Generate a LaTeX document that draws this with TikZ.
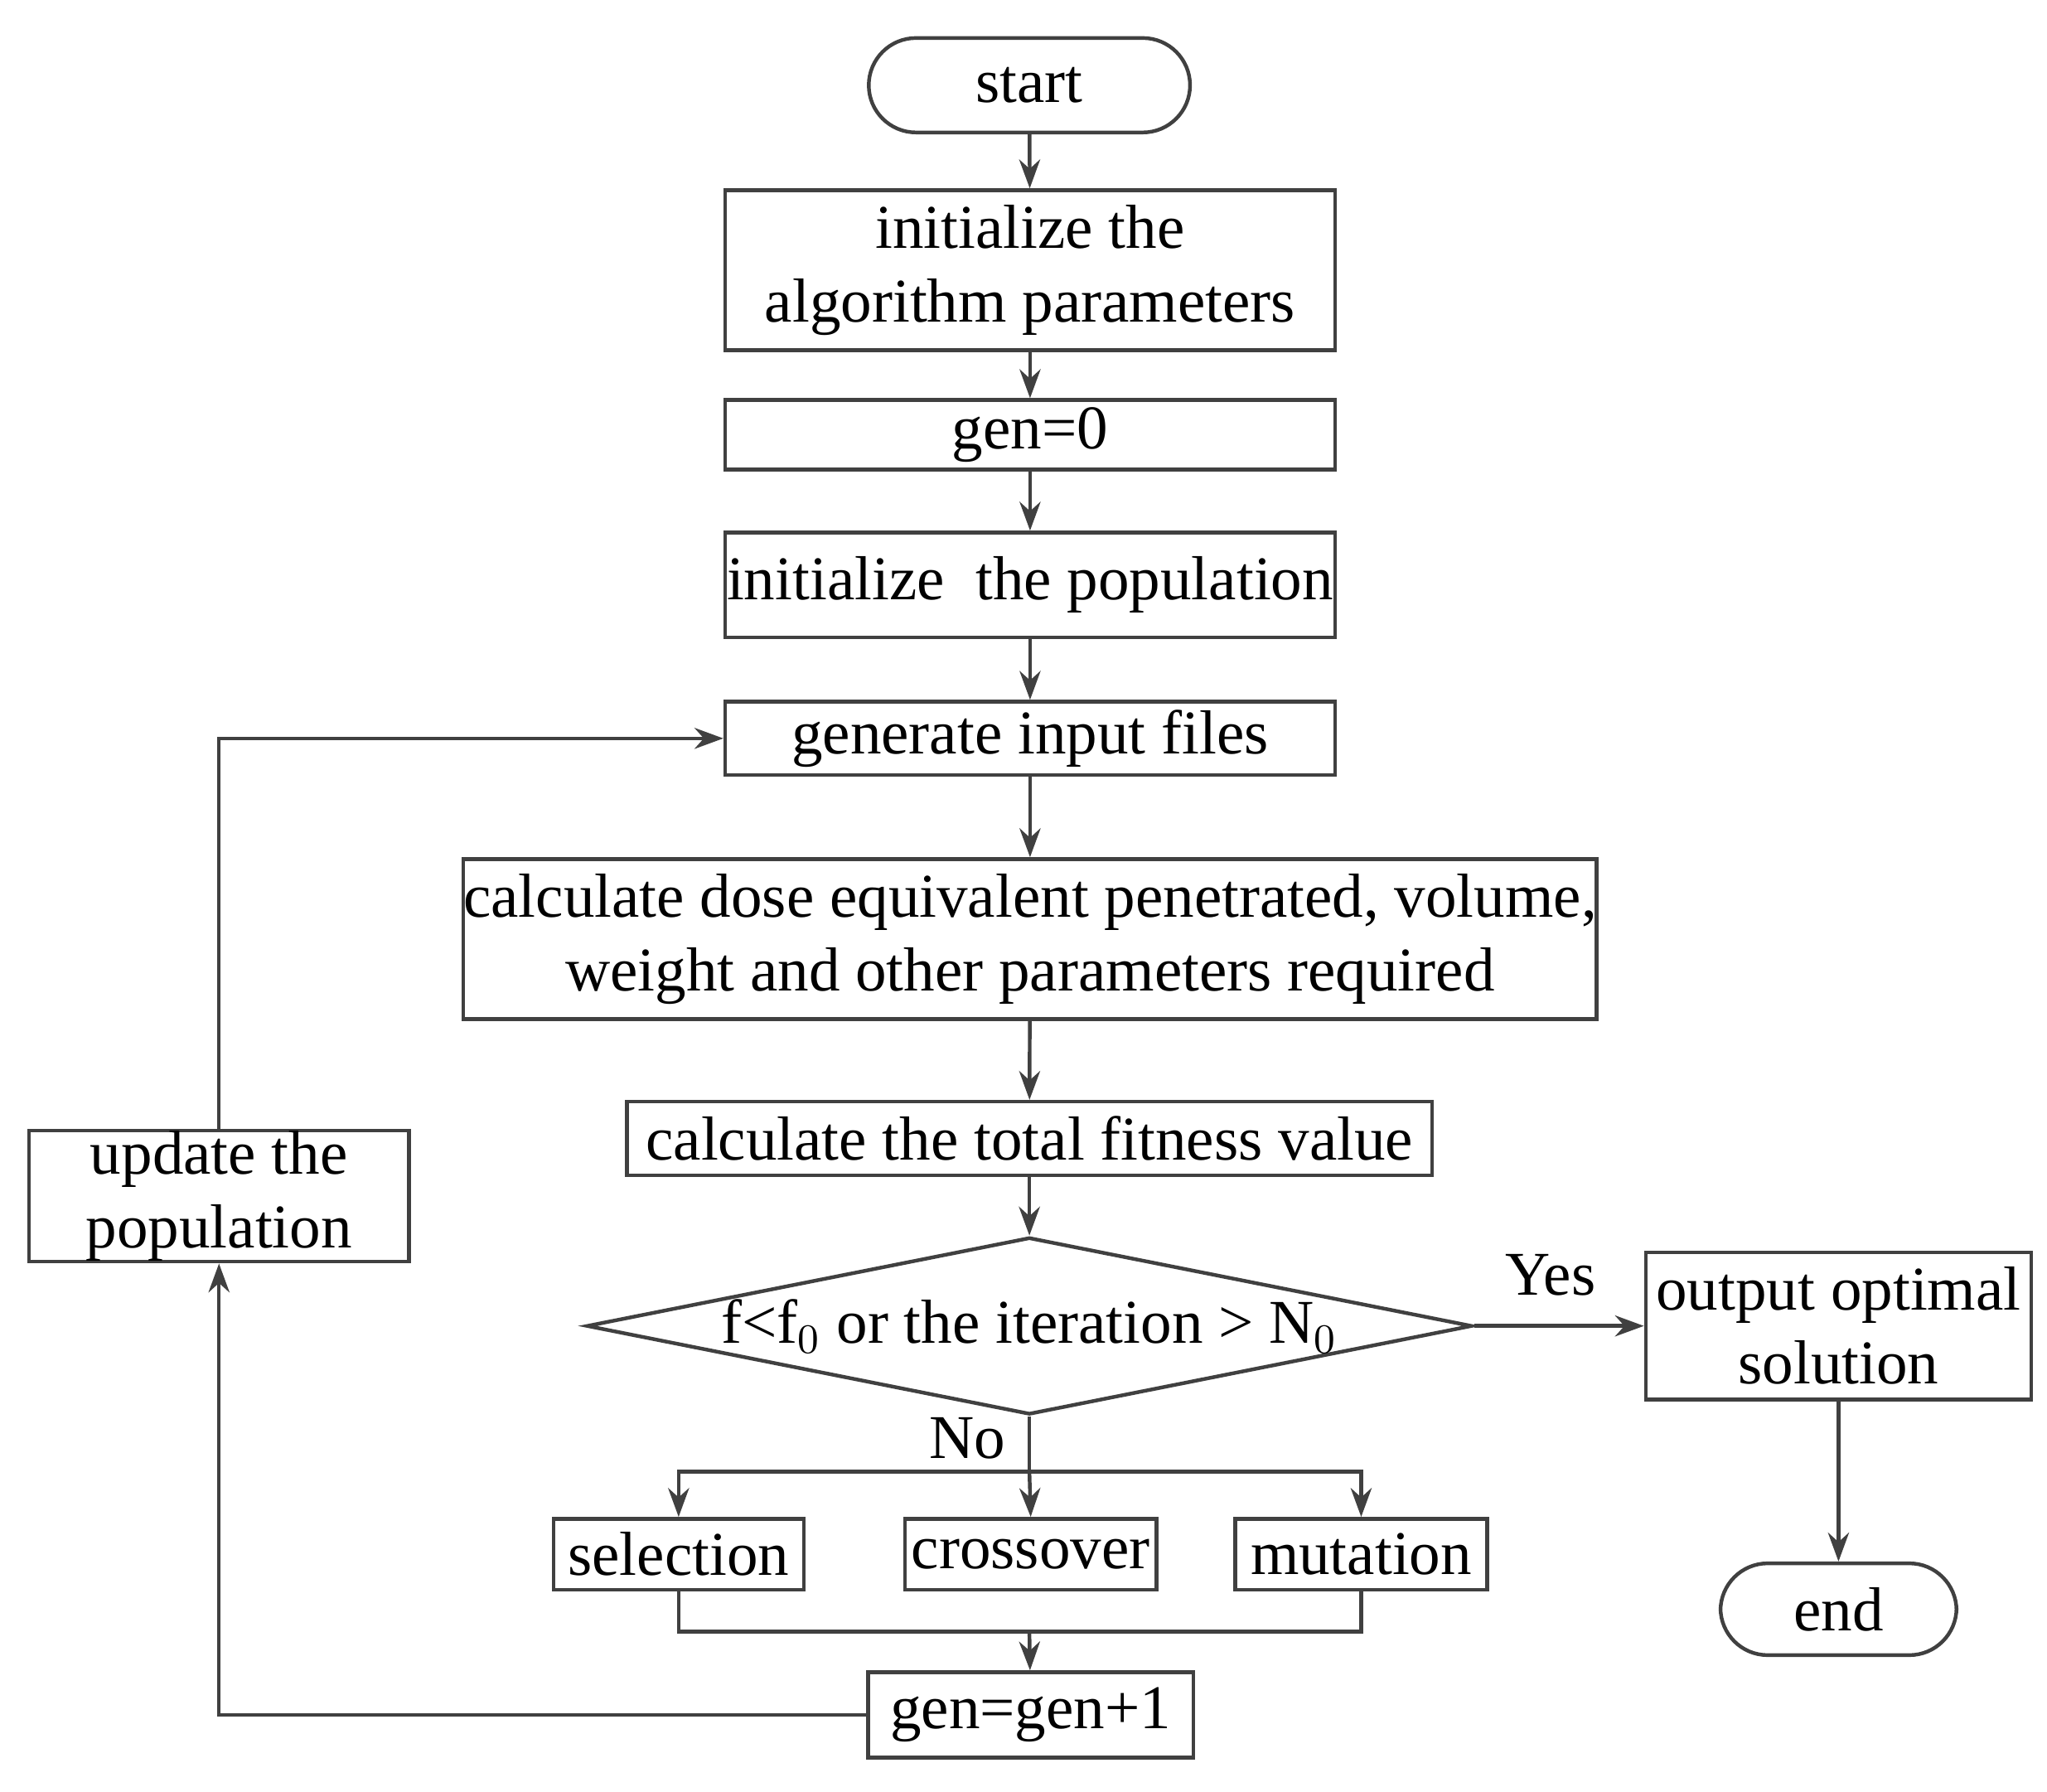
\documentclass[tikz,border=0pt]{standalone}
\usepackage{fontspec}
\setmainfont{Liberation Serif}
\usetikzlibrary{shapes.geometric,arrows.meta}
\tikzset{
  box/.style={draw=black!75, thick, align=center, inner sep=0pt, font=\fontsize{13.5}{16}\selectfont},
  term/.style={box, rounded corners=0.36cm},
  arr/.style={draw=black!75, thick, -{Stealth[length=2.2mm,width=1.6mm]}},
  ln/.style={draw=black!75, thick}
}
\begin{document}
\begin{tikzpicture}[x=1cm,y=1cm]
	\useasboundingbox (0,0) rectangle (15.61,-13.66);
	\node[term, minimum width=2.45cm, minimum height=0.72cm] (start) at (7.85,-0.65) {start};
	\node[box, minimum width=4.65cm, minimum height=1.22cm] (init) at (7.855,-2.06) {initialize the\\ algorithm parameters};
	\node[box, minimum width=4.65cm, minimum height=0.53cm] (gen) at (7.855,-3.315) {gen=0};
	\node[box, minimum width=4.65cm, minimum height=0.80cm] (pop) at (7.855,-4.46) {initialize\ \ the population};
	\node[box, minimum width=4.65cm, minimum height=0.56cm] (files) at (7.855,-5.63) {generate input files};
	\node[box, minimum width=8.61cm, minimum height=1.22cm] (dose) at (7.855,-7.16) {calculate dose equivalent penetrated, volume,\\ weight and other parameters required};
	\node[box, minimum width=6.14cm, minimum height=0.56cm] (fit) at (7.85,-8.68) {calculate the total fitness value};
	\node[box, diamond, aspect=5, minimum width=5.9cm, minimum height=1.18cm, inner sep=0pt] (cond) at (7.85,-10.11) {f<f$_0$ or the iteration > N$_0$};
	\node[box, minimum width=2.94cm, minimum height=1.12cm] (out) at (14.02,-10.11) {output optimal\\ solution};
	\node[term, minimum width=1.8cm, minimum height=0.70cm] (end) at (14.02,-12.27) {end};
	\node[box, minimum width=1.91cm, minimum height=0.54cm] (sel) at (5.175,-11.85) {selection};
	\node[box, minimum width=1.92cm, minimum height=0.54cm] (cross) at (7.86,-11.85) {crossover};
	\node[box, minimum width=1.92cm, minimum height=0.54cm] (mut) at (10.38,-11.85) {mutation};
	\node[box, minimum width=2.48cm, minimum height=0.65cm] (inc) at (7.86,-13.075) {gen=gen+1};
	\node[box, minimum width=2.90cm, minimum height=1.00cm] (upd) at (1.67,-9.12) {update the\\ population};
	% connectors
	\coordinate (split) at (7.85,-11.22);
	\coordinate (join) at (7.85,-12.44);
	\draw[arr] (start) -- (init);
	\draw[arr] (init) -- (gen);
	\draw[arr] (gen) -- (pop);
	\draw[arr] (pop) -- (files);
	\draw[arr] (files) -- (dose);
	\draw[arr] (dose) -- (fit);
	\draw[arr] (fit) -- (cond);
	\draw[arr] (cond) -- node[above, pos=0.45, font=\fontsize{13.5}{16}\selectfont, yshift=0.1cm] {Yes} (out);
	\draw[arr] (out) -- (end);
	\draw[ln] (cond.south) -- node[left, font=\fontsize{13.5}{16}\selectfont, xshift=-0.05cm, pos=0.4] {No} (split);
	\draw[arr] (split) -| (sel.north);
	\draw[arr] (split) -- (cross.north);
	\draw[arr] (split) -| (mut.north);
	\draw[ln] (sel.south) |- (join) -| (mut.south);
	\draw[arr] (join) -- (inc);
	\draw[arr] (inc.west) -| (upd.south);
	\draw[arr] (upd.north) |- (files.west);
\end{tikzpicture}
\end{document}
